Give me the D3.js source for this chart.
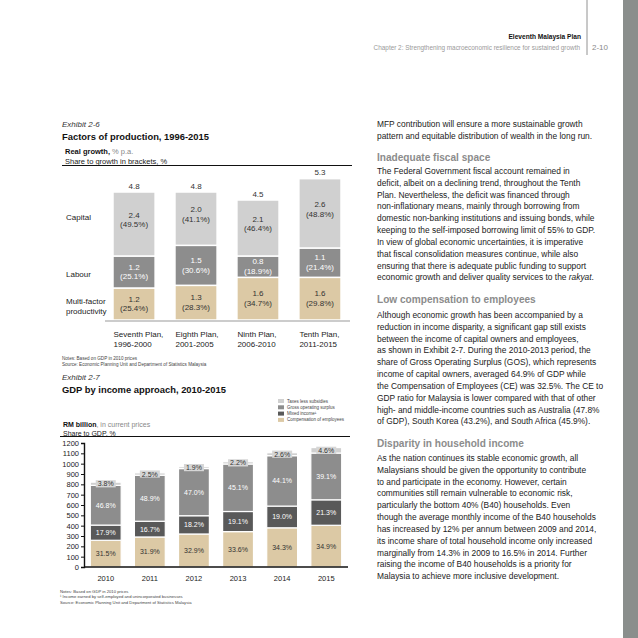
<!DOCTYPE html>
<html>
<head>
<meta charset="utf-8">
<script src="https://cdn.jsdelivr.net/npm/d3@7"></script>
<style>
html,body{margin:0;padding:0;background:#fff;}
svg{display:block;font-family:"Liberation Sans",Arial,Helvetica,sans-serif;}
</style>
</head>
<body>
<svg id="page" width="638" height="638"></svg>
<script>
// ---------- Exhibit 2-6 data ----------
const planNames = ["Seventh Plan,", "Eighth Plan,", "Ninth Plan,", "Tenth Plan,"];
const planYears = ["1996-2000", "2001-2005", "2006-2010", "2011-2015"];
const mfpGrowth = [1.2, 1.3, 1.6, 1.6];
const mfpShare = [25.4, 28.3, 34.7, 29.8];
const labourGrowth = [1.2, 1.5, 0.8, 1.1];
const labourShare = [25.1, 30.6, 18.9, 21.4];
const capitalGrowth = [2.4, 2.0, 2.1, 2.6];
const capitalShare = [49.5, 41.1, 46.4, 48.8];
const totalGrowth = [4.8, 4.8, 4.5, 5.3];

// ---------- Exhibit 2-7 data ----------
const years = ["2010", "2011", "2012", "2013", "2014", "2015"];
const gdpTotal = [821, 911, 971, 1019, 1106, 1157]; // RM billion
const ceShare = [31.5, 31.9, 32.9, 33.6, 34.3, 34.9];
const miShare = [17.9, 16.7, 18.2, 19.1, 19.0, 21.3];
const gosShare = [46.8, 48.9, 47.0, 45.1, 44.1, 39.1];
const taxShare = [3.8, 2.5, 1.9, 2.2, 2.6, 4.6];
const yTicks = [0, 100, 200, 300, 400, 500, 600, 700, 800, 900, 1000, 1100, 1200];
const legendLabels = ["Taxes less subsidies", "Gross operating surplus", "Mixed income\u00b9", "Compensation of employees"];

const C_LIGHT = "#d0d0d0", C_MID = "#8d8d8d", C_DARK = "#595959", C_BEIGE = "#dcc9a5";

const svg = d3.select("#page");

function txt(x, y, s, opts = {}) {
  const t = svg.append("text").attr("x", x).attr("y", y)
    .attr("dominant-baseline", "central")
    .attr("font-size", opts.size || 8)
    .attr("fill", opts.fill || "#222")
    .attr("text-anchor", opts.anchor || "start");
  if (opts.weight) t.attr("font-weight", opts.weight);
  if (opts.style) t.attr("font-style", opts.style);
  if (opts.ls !== undefined) t.attr("letter-spacing", opts.ls);
  t.text(s);
  return t;
}

// ---------- page chrome ----------
svg.append("rect").attr("x", 623).attr("y", 0).attr("width", 15).attr("height", 638).attr("fill", "#8a8e8c");
svg.append("line").attr("x1", 587).attr("x2", 587).attr("y1", 0).attr("y2", 55).attr("stroke", "#777").attr("stroke-width", 0.8);
txt(581, 36, "Eleventh Malaysia Plan", {size: 6.6, weight: "bold", anchor: "end", fill: "#111"});
txt(580, 47, "Chapter 2: Strengthening macroeconomic resilience for sustained growth", {size: 6.4, anchor: "end", fill: "#9a9a9a"});
txt(592, 47, "2-10", {size: 8, fill: "#8a8a8a"});

// ---------- Exhibit 2-6 ----------
txt(62, 124, "Exhibit 2-6", {size: 8, style: "italic", fill: "#333"});
txt(62, 136, "Factors of production, 1996-2015", {size: 9.4, weight: "bold", fill: "#111"});
const rg = txt(65, 151, "", {size: 7.5, fill: "#111"});
rg.append("tspan").attr("font-weight", "bold").text("Real growth, ");
rg.append("tspan").attr("fill", "#888").text("% p.a.");
txt(65, 161, "Share to growth in brackets, %", {size: 7.5, fill: "#222"});
svg.append("line").attr("x1", 62).attr("x2", 352).attr("y1", 165.5).attr("y2", 165.5).attr("stroke", "#111").attr("stroke-width", 1);

const x1 = d3.scaleBand().domain(planNames).range([104, 350]).paddingInner(0.32).paddingOuter(0.145);
const y1 = d3.scaleLinear().domain([0, 6]).range([320, 160]);

const g1 = svg.append("g");
planNames.forEach((p, i) => {
  const segs = [
    {v: mfpGrowth[i], s: mfpShare[i], c: C_BEIGE, tc: "#333", b: 0},
    {v: labourGrowth[i], s: labourShare[i], c: C_MID, tc: "#fff", b: mfpGrowth[i]},
    {v: capitalGrowth[i], s: capitalShare[i], c: C_LIGHT, tc: "#333", b: mfpGrowth[i] + labourGrowth[i]}
  ];
  segs.forEach((d, k) => {
    const top = y1(d.b + d.v), bot = y1(d.b);
    g1.append("rect").attr("x", x1(p)).attr("width", x1.bandwidth())
      .attr("y", top).attr("height", bot - top).attr("fill", d.c)
      .attr("stroke", "#fff").attr("stroke-width", 1.5);
    const cy = (top + bot) / 2 - (k === 2 ? 4 : 0);
    txt(x1(p) + x1.bandwidth() / 2, cy - 4.7, d.v.toFixed(1), {size: 8, anchor: "middle", fill: d.tc});
    txt(x1(p) + x1.bandwidth() / 2, cy + 4.7, "(" + d.s.toFixed(1) + "%)", {size: 8, anchor: "middle", fill: d.tc});
  });
  txt(x1(p) + x1.bandwidth() / 2, y1(totalGrowth[i]) - 6, totalGrowth[i].toFixed(1), {size: 8, anchor: "middle", fill: "#333"});
  txt(x1(p) + 0.5, 334, p, {size: 8, fill: "#222"});
  txt(x1(p) + 0.5, 344, planYears[i], {size: 8, fill: "#222"});
});
svg.append("line").attr("x1", 105).attr("x2", 350).attr("y1", 321).attr("y2", 321).attr("stroke", "#999").attr("stroke-width", 1);

txt(66, 217, "Capital", {size: 8, fill: "#222"});
txt(66, 274, "Labour", {size: 8, fill: "#222"});
txt(66, 301, "Multi-factor", {size: 8, fill: "#222"});
txt(66, 311, "productivity", {size: 8, fill: "#222"});

txt(62, 358, "Notes: Based on GDP in 2010 prices", {size: 4.6, fill: "#444"});
txt(62, 364, "Source: Economic Planning Unit and Department of Statistics Malaysia", {size: 4.6, fill: "#444"});

// ---------- Exhibit 2-7 ----------
txt(62, 377, "Exhibit 2-7", {size: 8, style: "italic", fill: "#333"});
txt(62, 389, "GDP by income approach, 2010-2015", {size: 9.4, weight: "bold", fill: "#111"});

const legColors = [C_LIGHT, C_MID, C_DARK, C_BEIGE];
legendLabels.forEach((l, i) => {
  const ly = 401 + i * 6.3;
  svg.append("rect").attr("x", 278).attr("y", ly - 2).attr("width", 6).attr("height", 4).attr("fill", legColors[i]);
  txt(287, ly, l, {size: 4.5, fill: "#444"});
});

const rm = txt(63, 424, "", {size: 7, fill: "#111"});
rm.append("tspan").attr("font-weight", "bold").text("RM billion");
rm.append("tspan").attr("fill", "#888").text(", in current prices");
txt(63, 433, "Share to GDP, %", {size: 7, fill: "#222"});
svg.append("line").attr("x1", 60).attr("x2", 350).attr("y1", 436.5).attr("y2", 436.5).attr("stroke", "#111").attr("stroke-width", 1);

const x2 = d3.scaleBand().domain(years).range([84, 348]).paddingInner(0.3).paddingOuter(0.143);
const y2 = d3.scaleLinear().domain([0, 1200]).range([567, 443]);

const g2 = svg.append("g");
years.forEach((yr, i) => {
  const tot = gdpTotal[i];
  const parts = [
    {s: ceShare[i], c: C_BEIGE, tc: "#333"},
    {s: miShare[i], c: C_DARK, tc: "#fff"},
    {s: gosShare[i], c: C_MID, tc: "#fff"},
    {s: taxShare[i], c: C_LIGHT, tc: "#333"}
  ];
  let base = 0;
  const bx = x2(yr), bw = x2.bandwidth(), cx = bx + bw / 2;
  parts.forEach((d, k) => {
    const v = tot * d.s / 100;
    const top = y2(base + v), bot = y2(base);
    g2.append("rect").attr("x", bx).attr("width", bw).attr("y", top).attr("height", bot - top)
      .attr("fill", d.c).attr("stroke", "#fff").attr("stroke-width", 1.2);
    const lab = d.s.toFixed(1) + "%";
    const cy = (top + bot) / 2;
    if (k === 3) {
      g2.append("rect").attr("x", cx - 10).attr("y", cy - 3.6).attr("width", 20).attr("height", 7.2).attr("fill", "#d6d6d6");
    }
    txt(cx, cy, lab, {size: 7, anchor: "middle", fill: d.tc});
    base += v;
  });
  txt(cx, 578, yr, {size: 7.5, anchor: "middle", fill: "#222"});
});

const yAxis = svg.append("g").attr("transform", "translate(84,0)")
  .call(d3.axisLeft(y2).tickValues(yTicks).tickFormat(d3.format("d")).tickSize(3).tickPadding(2));
yAxis.select(".domain").attr("stroke", "#111").attr("stroke-width", 1.4);
yAxis.selectAll(".tick line").attr("stroke", "#111");
yAxis.selectAll(".tick text").attr("font-size", 7.5).attr("fill", "#222")
  .attr("font-family", "'Liberation Sans',Arial,sans-serif");
svg.append("line").attr("x1", 84).attr("x2", 348).attr("y1", 567).attr("y2", 567).attr("stroke", "#111").attr("stroke-width", 1.4);

txt(60, 591, "Notes: Based on GDP in 2010 prices", {size: 4.2, fill: "#444"});
txt(60, 596.5, "\u00b9 Income earned by self-employed and unincorporated businesses", {size: 4.2, fill: "#444"});
txt(60, 602, "Source: Economic Planning Unit and Department of Statistics Malaysia", {size: 4.2, fill: "#444"});

// ---------- right column text ----------
const para0 = [
  "MFP contribution will ensure a more sustainable growth",
  "pattern and equitable distribution of wealth in the long run."
];
const head1 = "Inadequate fiscal space";
const para1 = [
  "The Federal Government fiscal account remained in",
  "deficit, albeit on a declining trend, throughout the Tenth",
  "Plan. Nevertheless, the deficit was financed through",
  "non-inflationary means, mainly through borrowing from",
  "domestic non-banking institutions and issuing bonds, while",
  "keeping to the self-imposed borrowing limit of 55% to GDP.",
  "In view of global economic uncertainties, it is imperative",
  "that fiscal consolidation measures continue, while also",
  "ensuring that there is adequate public funding to support",
  "economic growth and deliver quality services to the |rakyat|."
];
const head2 = "Low compensation to employees";
const para2 = [
  "Although economic growth has been accompanied by a",
  "reduction in income disparity, a significant gap still exists",
  "between the income of capital owners and employees,",
  "as shown in Exhibit 2-7. During the 2010-2013 period, the",
  "share of Gross Operating Surplus (GOS), which represents",
  "income of capital owners, averaged 64.9% of GDP while",
  "the Compensation of Employees (CE) was 32.5%. The CE to",
  "GDP ratio for Malaysia is lower compared with that of other",
  "high- and middle-income countries such as Australia (47.8%",
  "of GDP), South Korea (43.2%), and South Africa (45.9%)."
];
const head3 = "Disparity in household income";
const para3 = [
  "As the nation continues its stable economic growth, all",
  "Malaysians should be given the opportunity to contribute",
  "to and participate in the economy. However, certain",
  "communities still remain vulnerable to economic risk,",
  "particularly the bottom 40% (B40) households. Even",
  "though the average monthly income of the B40 households",
  "has increased by 12% per annum between 2009 and 2014,",
  "its income share of total household income only increased",
  "marginally from 14.3% in 2009 to 16.5% in 2014. Further",
  "raising the income of B40 households is a priority for",
  "Malaysia to achieve more inclusive development."
];

const TX = 377, LH = 11.82, FS = 8.4;
function para(lines, y0) {
  lines.forEach((l, i) => {
    const t = txt(TX, y0 + i * LH, "", {size: FS, fill: "#222"});
    l.split("|").forEach((part, j) => {
      const ts = t.append("tspan").text(part);
      if (j % 2 === 1) ts.attr("font-style", "italic");
    });
  });
}
function head(s, y) { txt(TX, y, s, {size: 10.1, weight: "bold", fill: "#8c8c8c"}); }

para(para0, 124);
head(head1, 157);
para(para1, 171);
head(head2, 299);
para(para2, 315);
head(head3, 443);
para(para3, 458);
</script>
</body>
</html>
